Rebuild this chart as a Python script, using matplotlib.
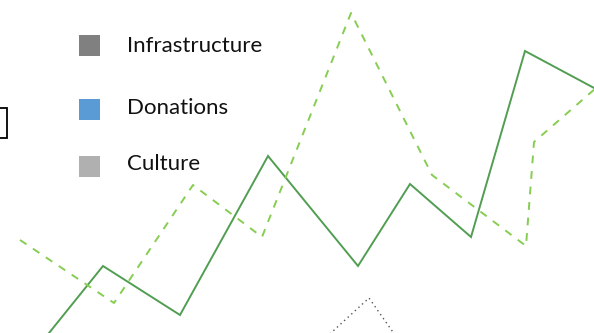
import matplotlib
matplotlib.use("Agg")
import matplotlib.pyplot as plt
from matplotlib.patches import Rectangle

# Series (x position, value)
solid_x = [20, 103, 180, 268, 358, 410, 471, 525, 596]
solid_y = [-36, 67, 18, 177, 67, 149, 96, 282, 244]

dashed_x = [20, 114, 193, 262, 351, 432, 526, 534, 596]
dashed_y = [93, 30, 148, 96, 320, 158, 87, 191, 245]

dotted_x = [320, 369, 402]
dotted_y = [-10, 35, -12]

legend_labels = ["Infrastructure", "Donations", "Culture"]
legend_colors = ["#808080", "#5b9bd5", "#b0b0b0"]

W, H = 594, 333
fig = plt.figure(figsize=(W / 100, H / 100), dpi=100)
ax = fig.add_axes([0, 0, 1, 1])
ax.set_xlim(0, W)
ax.set_ylim(0, H)
ax.axis("off")

ax.plot(solid_x, solid_y, color="#519e52", lw=1.4, solid_joinstyle="miter")
ax.plot(dashed_x, dashed_y, color="#86cd52", lw=1.4, dashes=(4, 4))
ax.plot(dotted_x, dotted_y, color="#555555", lw=1.0, dashes=(1, 2.5))

# partial box at left edge
ax.add_patch(Rectangle((-20, H - 138), 27, 30, fill=False, edgecolor="black", lw=1.3))

# legend
sq_centers = [45.5, 109.5, 166.5]
txt_centers = [45.5, 108.5, 164.5]
for lab, col, sc, tc in zip(legend_labels, legend_colors, sq_centers, txt_centers):
    ax.add_patch(Rectangle((79, H - sc - 10.5), 21, 21, facecolor=col, edgecolor="none"))
    ax.text(127, H - tc, lab, fontsize=16, family="Lato", color="#111111",
            va="center", ha="left")

fig.savefig("out.png", dpi=100)
